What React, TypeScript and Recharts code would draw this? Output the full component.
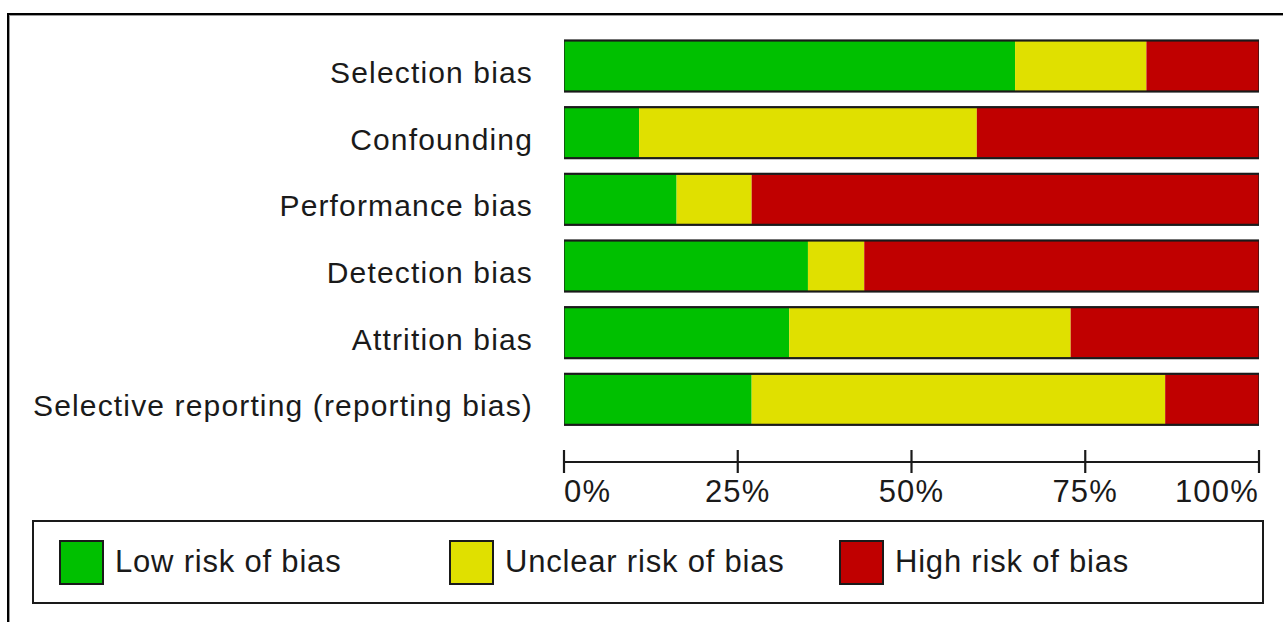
import React from 'react';
import { BarChart, Bar, XAxis, YAxis } from 'recharts';

const categories = [
  'Selection bias',
  'Confounding',
  'Performance bias',
  'Detection bias',
  'Attrition bias',
  'Selective reporting (reporting bias)',
];
const lowRisk = [64.9, 10.8, 16.2, 35.1, 32.4, 27.0];
const unclearRisk = [18.9, 48.6, 10.8, 8.1, 40.5, 59.5];
const highRisk = [16.2, 40.6, 73.0, 56.8, 27.1, 13.5];
const xTicks = [0, 25, 50, 75, 100];
const xTickLabels = ['0%', '25%', '50%', '75%', '100%'];

const series = [
  { key: 'low', name: 'Low risk of bias', color: '#00C000' },
  { key: 'unclear', name: 'Unclear risk of bias', color: '#E0E000' },
  { key: 'high', name: 'High risk of bias', color: '#C00000' },
];

const data = categories.map((c, i) => ({
  name: c,
  low: lowRisk[i],
  unclear: unclearRisk[i],
  high: highRisk[i],
}));

const FONT = '"Liberation Sans", Arial, sans-serif';
const INK = '#1a1a1a';

const HighShape = (props: any) => {
  const { x, y, width, height, fill, payload } = props;
  const ppu = width / payload.high;
  const left = x + width - 100 * ppu;
  return (
    <g>
      <rect x={x} y={y} width={width} height={height} fill={fill} />
      <rect
        x={left - 0.5}
        y={y - 0.5}
        width={x + width - left + 1}
        height={height + 1}
        fill="none"
        stroke={INK}
        strokeWidth={2.2}
      />
    </g>
  );
};

const CategoryTick = (props: any) => {
  const { x, y, payload } = props;
  return (
    <text
      x={x}
      y={y}
      dy={16.5}
      textAnchor="end"
      fill={INK}
      fontFamily={FONT}
      fontSize={30}
      letterSpacing={1.15}
    >
      {payload.value}
    </text>
  );
};

const PercentTick = (props: any) => {
  const { x, y, payload } = props;
  const idx = xTicks.indexOf(payload.value);
  const anchor = idx === 0 ? 'start' : idx === xTicks.length - 1 ? 'end' : 'middle';
  return (
    <g>
      <line x1={x} x2={x} y1={y - 12} y2={y + 11} stroke={INK} strokeWidth={2.2} />
      <text
        x={x}
        y={y}
        dy={39.5}
        textAnchor={anchor}
        fill={INK}
        fontFamily={FONT}
        fontSize={31}
        letterSpacing={1.2}
      >
        {xTickLabels[idx]}
      </text>
    </g>
  );
};

export default function App() {
  return (
    <div
      style={{
        position: 'absolute',
        left: 0,
        top: 0,
        width: 1283,
        height: 622,
        overflow: 'hidden',
        background: '#fff',
      }}
    >
      <div
        style={{
          position: 'absolute',
          left: 7,
          top: 13,
          width: 1320,
          height: 660,
          borderLeft: '2px solid #000',
          borderTop: '2px solid #000',
          boxShadow: 'inset 1px 1px 0 #9a9a9a',
        }}
      />
      <div style={{ position: 'absolute', left: 0, top: 0 }}>
        <BarChart
          width={1283}
          height={622}
          data={data}
          layout="vertical"
          margin={{ top: 33, right: 24, left: 0, bottom: 120 }}
          barSize={50}
        >
          <XAxis
            type="number"
            domain={[0, 100]}
            ticks={xTicks}
            allowDataOverflow
            axisLine={{ stroke: INK, strokeWidth: 2.2 }}
            tickLine={false}
            tickSize={0}
            tickMargin={0}
            height={40}
            tick={<PercentTick />}
            interval={0}
          />
          <YAxis
            type="category"
            dataKey="name"
            width={564}
            axisLine={false}
            tickLine={false}
            tickSize={0}
            tickMargin={31}
            padding={{ top: 0, bottom: 29 }}
            tick={<CategoryTick />}
            interval={0}
          />
          {series.map((s) => (
            <Bar
              key={s.key}
              dataKey={s.key}
              name={s.name}
              stackId="a"
              fill={s.color}
              isAnimationActive={false}
              shape={s.key === 'high' ? <HighShape /> : undefined}
            />
          ))}
        </BarChart>
      </div>
      <div
        style={{
          position: 'absolute',
          left: 32,
          top: 520,
          width: 1232,
          height: 84,
          boxSizing: 'border-box',
          border: `2px solid ${INK}`,
          display: 'flex',
          alignItems: 'center',
          paddingLeft: 25,
          fontFamily: FONT,
          fontSize: 31,
          letterSpacing: 0.8,
          color: INK,
        }}
      >
        {series.map((s) => (
          <div key={s.key} style={{ width: 390, display: 'flex', alignItems: 'center' }}>
            <div
              style={{
                width: 45,
                height: 45,
                boxSizing: 'border-box',
                border: `2px solid ${INK}`,
                background: s.color,
                marginRight: 11,
              }}
            />
            <span>{s.name}</span>
          </div>
        ))}
      </div>
    </div>
  );
}
